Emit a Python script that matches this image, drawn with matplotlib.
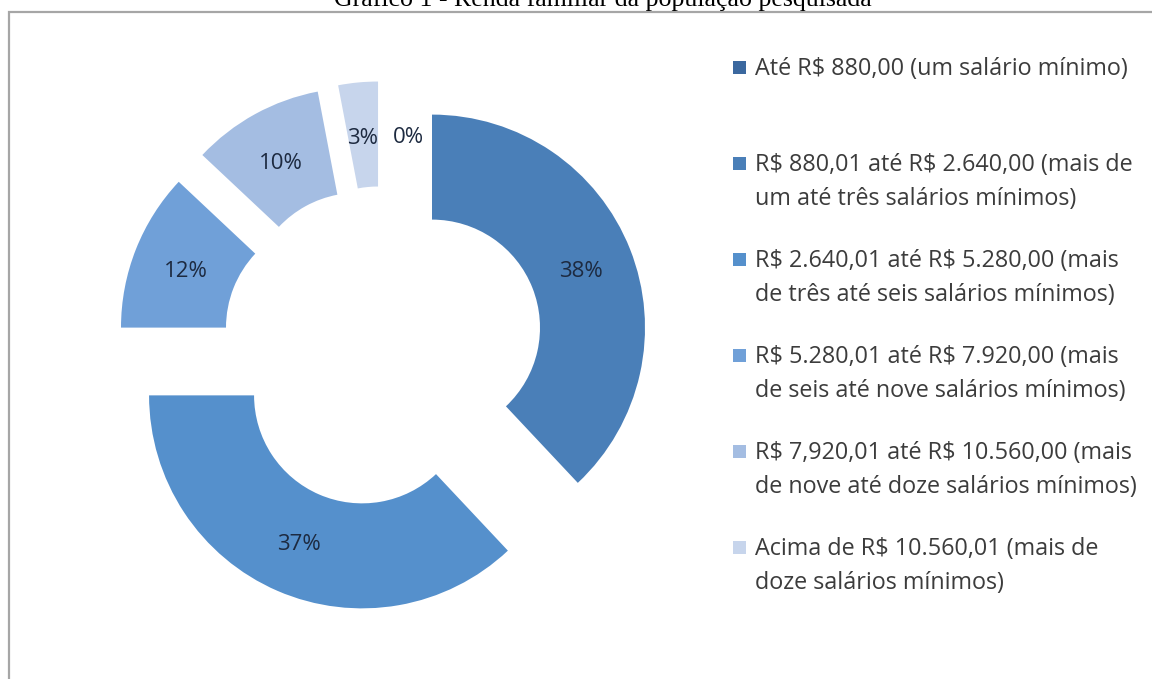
import matplotlib
matplotlib.use("Agg")
import matplotlib.pyplot as plt
from matplotlib.patches import Rectangle

plt.rcParams["text.parse_math"] = False

title = "Gráfico 1 - Renda familiar da população pesquisada"
categories = [
    "Até R$ 880,00 (um salário mínimo)",
    "R$ 880,01 até R$ 2.640,00 (mais de\num até três salários mínimos)",
    "R$ 2.640,01 até R$ 5.280,00 (mais\nde três até seis salários mínimos)",
    "R$ 5.280,01 até R$ 7.920,00 (mais\nde seis até nove salários mínimos)",
    "R$ 7,920,01 até R$ 10.560,00 (mais\nde nove até doze salários mínimos)",
    "Acima de R$ 10.560,01 (mais de\ndoze salários mínimos)",
]
values = [0, 38, 37, 12, 10, 3]
pct_labels = ["0%", "38%", "37%", "12%", "10%", "3%"]
colors = ["#3b689f", "#4a7fb8", "#5590cc", "#70a0d8", "#a4bde2", "#c7d5ec"]

W, H = 1152, 679
fig = plt.figure(figsize=(W / 100, H / 100), dpi=100)
ax = fig.add_axes([0, 0, 1, 1])

R = 213
wedges, texts = ax.pie(
    values,
    colors=colors,
    startangle=90,
    counterclock=False,
    center=(383, H - 347),
    radius=R,
    explode=[52.7] * len(values),
    wedgeprops=dict(width=105, linewidth=0),
    labels=pct_labels,
    labeldistance=0.75,
    textprops=dict(fontsize=16, color="#1d2a40", family="Open Sans"),
)
# data label of the zero slice is moved aside (as in the original)
x0, y0 = texts[0].get_position()
texts[0].set_position((x0 + 25, y0))
for t in texts:
    t.set_ha("center")
    t.set_va("center")
    x, y = t.get_position()
    t.set_position((x, y - 3))

ax.set_xlim(0, W)
ax.set_ylim(0, H)
ax.set_aspect("auto")
ax.axis("off")

# chart frame (only left and top edges visible)
ax.add_patch(Rectangle((9, -20), W + 40, H - 12 + 20, fill=False,
                       edgecolor="#a6a6a6", linewidth=1.6))

# title (partially cut off at the top, as in the original)
ax.text(603, H - 6, title, ha="center", va="baseline", fontsize=18.6,
        family="Liberation Serif", color="#000000")

# legend
y_first = 67
step = 96
for i, (lab, col) in enumerate(zip(categories, colors)):
    yy = H - (y_first + i * step)
    ax.add_patch(Rectangle((733, yy - 7), 13, 13, facecolor=col, edgecolor="none"))
    ax.text(755, yy + 10, lab, ha="left", va="top", fontsize=16.8,
            family="Open Sans", color="#3c3c3c", linespacing=1.55)

fig.savefig("out.png", dpi=100)
